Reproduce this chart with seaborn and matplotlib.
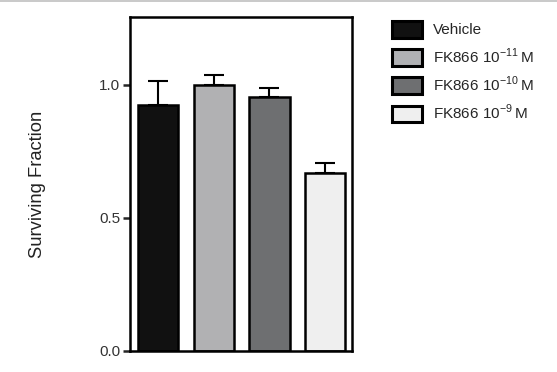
import matplotlib
matplotlib.use("Agg")
import matplotlib.pyplot as plt
import matplotlib.patches as mpatches
from matplotlib.lines import Line2D
import seaborn as sns
import pandas as pd

groups = ["Vehicle", r"FK866 10$^{-11}\,$M", r"FK866 10$^{-10}\,$M", r"FK866 10$^{-9}\,$M"]
values = [0.925, 1.0, 0.955, 0.669]
errors = [0.09, 0.038, 0.035, 0.038]
colors = ["#111111", "#b0b1b4", "#6e6f71", "#efefef"]

sns.set_style("ticks")
plt.rcParams["font.family"] = ["Liberation Sans", "DejaVu Sans"]
plt.rcParams["mathtext.fontset"] = "custom"
plt.rcParams["mathtext.rm"] = "Liberation Sans"

df = pd.DataFrame({"group": groups, "value": values})

fig = plt.figure(figsize=(5.57, 3.72), dpi=100)
ax = fig.add_axes([0.2334, 0.0565, 0.632 - 0.2334, 0.954 - 0.0565])

sns.barplot(data=df, x="group", y="value", hue="group", palette=colors,
            edgecolor="black", linewidth=1.8, width=0.72, legend=False,
            errorbar=None, ax=ax)
# upper error bars only
ax.errorbar(range(len(values)), values, yerr=[[0] * len(errors), errors],
            fmt="none", ecolor="black", elinewidth=1.5, capsize=7, capthick=1.5,
            zorder=1)
for b in ax.patches:
    b.set_zorder(2)

ax.set_xlim(-0.5, 3.48)
ax.set_ylim(0, 1.255)
ax.set_yticks([0.0, 0.5, 1.0])
ax.set_yticklabels(["0.0", "0.5", "1.0"], fontsize=11, color="#333333")
ax.set_xticks([])
ax.set_xlabel("")
ax.set_ylabel("Surviving Fraction", fontsize=13.2, color="#222222")
for s in ax.spines.values():
    s.set_linewidth(1.8)
    s.set_color("black")
ax.tick_params(axis="y", length=5, width=1.8, pad=2)
ax.yaxis.set_label_coords((46 - 130) / 222, 0.5)

handles = [mpatches.Patch(facecolor=c, edgecolor="black", linewidth=2.2, label=g)
           for c, g in zip(colors, groups)]
fig.legend(handles=handles, loc="upper left", bbox_to_anchor=(0.7038, 0.944),
           frameon=False, fontsize=11, handlelength=1.96, handleheight=1.31,
           labelspacing=0.57, handletextpad=0.72, borderaxespad=0, borderpad=0)

fig.add_artist(Line2D([0, 1], [0.9985, 0.9985], color="#c0c0c0", linewidth=1.2,
                      transform=fig.transFigure))

fig.savefig("out.png", dpi=100)
